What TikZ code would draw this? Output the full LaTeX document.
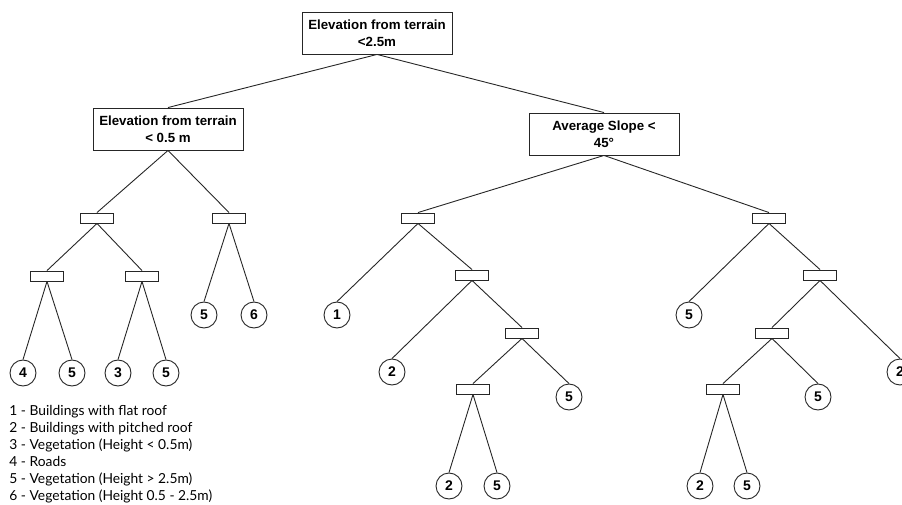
\documentclass[tikz,border=0pt]{standalone}
\usepackage{fontspec}
\setmainfont{Lato}
\newfontfamily\cajafont{Liberation Sans}
\usepackage{tikz}
\usetikzlibrary{positioning}

\begin{document}
\begin{tikzpicture}[x=1pt, y=-1pt, line width=0.9pt, draw=black!85,
    caja/.style={draw, rectangle, minimum width=150pt, minimum height=42pt, align=center, font=\cajafont\bfseries\fontsize{13.3}{17}\selectfont, inner sep=0pt},
    split/.style={draw, rectangle, minimum width=33pt, minimum height=10pt, inner sep=0pt},
    hoja/.style={draw, circle, minimum size=26pt, inner sep=0pt, font=\cajafont\bfseries\fontsize{14}{14}\selectfont}]
            \useasboundingbox (0,0) rectangle (902,505);
            % Nodos
            \node[caja] (raiz) at (377,33) {Elevation from terrain\\<2.5m};
            \node[caja] (elev) at (168,129) {Elevation from terrain\\< 0.5 m};
            \node[caja] (slope) at (604,134) {Average Slope <\\45°};

            \node[split] (a) at (97,218) {};
            \node[split] (b) at (229,218) {};
            \node[split] (a1) at (47,276) {};
            \node[split] (a2) at (142,276) {};
            \node[hoja] (b5) at (204,315) {5};
            \node[hoja] (b6) at (254,315) {6};
            \node[hoja] (a14) at (23,373) {4};
            \node[hoja] (a15) at (72,373) {5};
            \node[hoja] (a23) at (118,373) {3};
            \node[hoja] (a25) at (166,373) {5};

            \node[split] (c) at (418,218) {};
            \node[hoja] (c1) at (337,315) {1};
            \node[split] (c2) at (472,275) {};
            \node[hoja] (c22) at (392,372) {2};
            \node[split] (c3) at (522,333) {};
            \node[hoja] (c35) at (569,397) {5};
            \node[split] (c4) at (473,389) {};
            \node[hoja] (c42) at (449,486) {2};
            \node[hoja] (c45) at (497,486) {5};

            \node[split] (d) at (769,218) {};
            \node[hoja] (d5) at (689,315) {5};
            \node[split] (d2) at (820,275) {};
            \node[hoja] (d22) at (900,372) {2};
            \node[split] (d3) at (772,333) {};
            \node[hoja] (d35) at (818,397) {5};
            \node[split] (d4) at (723,389) {};
            \node[hoja] (d42) at (700,486) {2};
            \node[hoja] (d45) at (747,486) {5};

            % Leyenda
            \node[anchor=north west, align=left, inner sep=0pt, font=\fontsize{13.8}{17}\selectfont] (leyenda) at (9,405) {1 - Buildings with flat roof\\
                2 - Buildings with pitched roof\\
                3 - Vegetation (Height < 0.5m)\\
                4 - Roads\\
                5 - Vegetation (Height > 2.5m)\\
                6 - Vegetation (Height 0.5 - 2.5m)};

            % Aristas
            \draw (raiz.south) -- (elev.north);
            \draw (raiz.south) -- (slope.north);
            \draw (elev.south) -- (a.north);
            \draw (elev.south) -- (b.north);
            \draw (a.south) -- (a1.north);
            \draw (a.south) -- (a2.north);
            \draw (b.south) -- (b5.north);
            \draw (b.south) -- (b6.north);
            \draw (a1.south) -- (a14.north);
            \draw (a1.south) -- (a15.north);
            \draw (a2.south) -- (a23.north);
            \draw (a2.south) -- (a25.north);

            \draw (slope.south) -- (c.north);
            \draw (slope.south) -- (d.north);
            \draw (c.south) -- (c1.north);
            \draw (c.south) -- (c2.north);
            \draw (c2.south) -- (c22.north);
            \draw (c2.south) -- (c3.north);
            \draw (c3.south) -- (c4.north);
            \draw (c3.south) -- (c35.north);
            \draw (c4.south) -- (c42.north);
            \draw (c4.south) -- (c45.north);

            \draw (d.south) -- (d5.north);
            \draw (d.south) -- (d2.north);
            \draw (d2.south) -- (d3.north);
            \draw (d2.south) -- (d22.north);
            \draw (d3.south) -- (d4.north);
            \draw (d3.south) -- (d35.north);
            \draw (d4.south) -- (d42.north);
            \draw (d4.south) -- (d45.north);
          \end{tikzpicture}
\end{document}
